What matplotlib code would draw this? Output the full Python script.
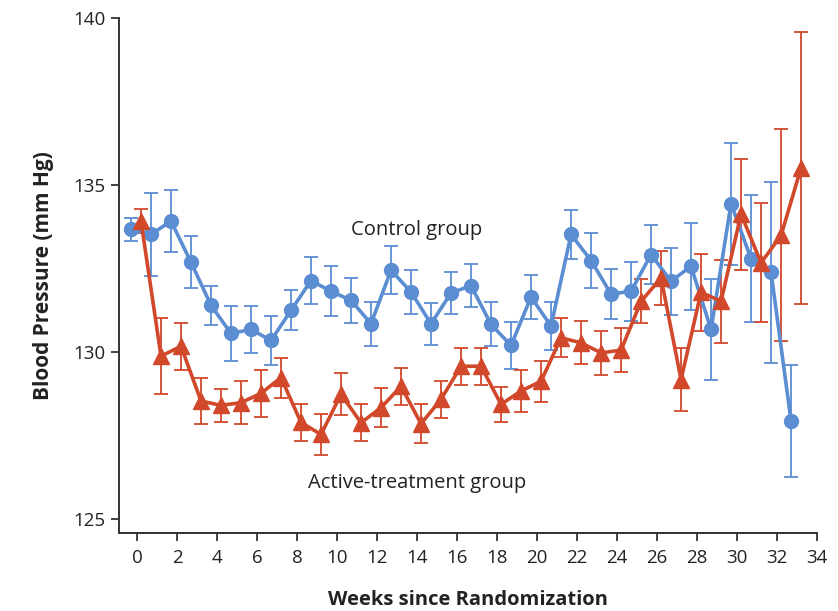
import numpy as np
from matplotlib import pyplot as plt

plt.rcParams['font.family'] = ['Open Sans', 'DejaVu Sans']

weeks = np.arange(34)

control_mean = [133.67, 133.52, 133.92, 132.69, 131.40, 130.56, 130.68, 130.35, 131.25, 132.14,
                131.82, 131.55, 130.85, 132.45, 131.80, 130.85, 131.77, 131.99, 130.83, 130.20,
                131.65, 130.78, 133.52, 132.74, 131.74, 131.82, 132.92, 132.12, 132.57, 130.68,
                134.44, 132.79, 132.39, 127.94]
control_err = [0.35, 1.25, 0.92, 0.78, 0.58, 0.83, 0.70, 0.72, 0.60, 0.71,
               0.75, 0.67, 0.66, 0.72, 0.65, 0.63, 0.62, 0.65, 0.66, 0.70,
               0.66, 0.71, 0.73, 0.83, 0.75, 0.88, 0.88, 1.00, 1.30, 1.50,
               1.82, 1.90, 2.70, 1.67]

active_mean = [133.92, 129.88, 130.18, 128.54, 128.41, 128.49, 128.77, 129.24, 127.90, 127.54,
               128.74, 127.89, 128.34, 128.98, 127.86, 128.59, 129.58, 129.58, 128.44, 128.84,
               129.13, 130.43, 130.28, 129.98, 130.06, 131.52, 132.22, 129.18, 131.79, 131.52,
               134.13, 132.67, 133.49, 135.51]
active_err = [0.35, 1.13, 0.70, 0.68, 0.50, 0.65, 0.70, 0.60, 0.55, 0.60,
              0.63, 0.55, 0.58, 0.55, 0.58, 0.55, 0.55, 0.55, 0.53, 0.62,
              0.62, 0.58, 0.64, 0.66, 0.66, 0.66, 0.82, 0.95, 1.15, 1.25,
              1.66, 1.78, 3.17, 4.07]

blue = '#5b8dd3'
red = '#d2482b'
axis_col = '#333333'

fig = plt.figure(figsize=(8.38, 6.11), dpi=100)
ax = fig.add_axes([0.142, 0.128, 0.833, 0.843])

ax.errorbar(weeks - 0.3, control_mean, yerr=control_err, color=blue, lw=2.6,
            marker='o', markersize=10, elinewidth=1.3, capsize=5, capthick=1.3)
ax.errorbar(weeks + 0.2, active_mean, yerr=active_err, color=red, lw=2.6,
            marker='^', markersize=11, elinewidth=1.3, capsize=5, capthick=1.3)

ax.text(14, 133.66, 'Control group', ha='center', va='center', fontsize=14.5, color='#222222')
ax.text(14, 126.08, 'Active-treatment group', ha='center', va='center', fontsize=14.5, color='#222222')

ax.set_xlim(-0.9, 34)
ax.set_ylim(124.6, 140)
ax.set_xticks(np.arange(0, 35, 2))
ax.set_yticks([125, 130, 135, 140])

for s in ['top', 'right']:
    ax.spines[s].set_visible(False)
for s in ['left', 'bottom']:
    ax.spines[s].set_color(axis_col)
    ax.spines[s].set_linewidth(1.4)

ax.tick_params(axis='both', colors=axis_col, labelcolor='#222222', width=1.3, length=6,
               labelsize=13.5)
ax.tick_params(axis='x', pad=6)

ax.set_xlabel('Weeks since Randomization', fontsize=14.5, fontweight='bold', color='#222222', labelpad=16)
ax.set_ylabel('Blood Pressure (mm Hg)', fontsize=15, fontweight='bold', color='#222222', labelpad=14)

fig.savefig('out.png', dpi=100)
